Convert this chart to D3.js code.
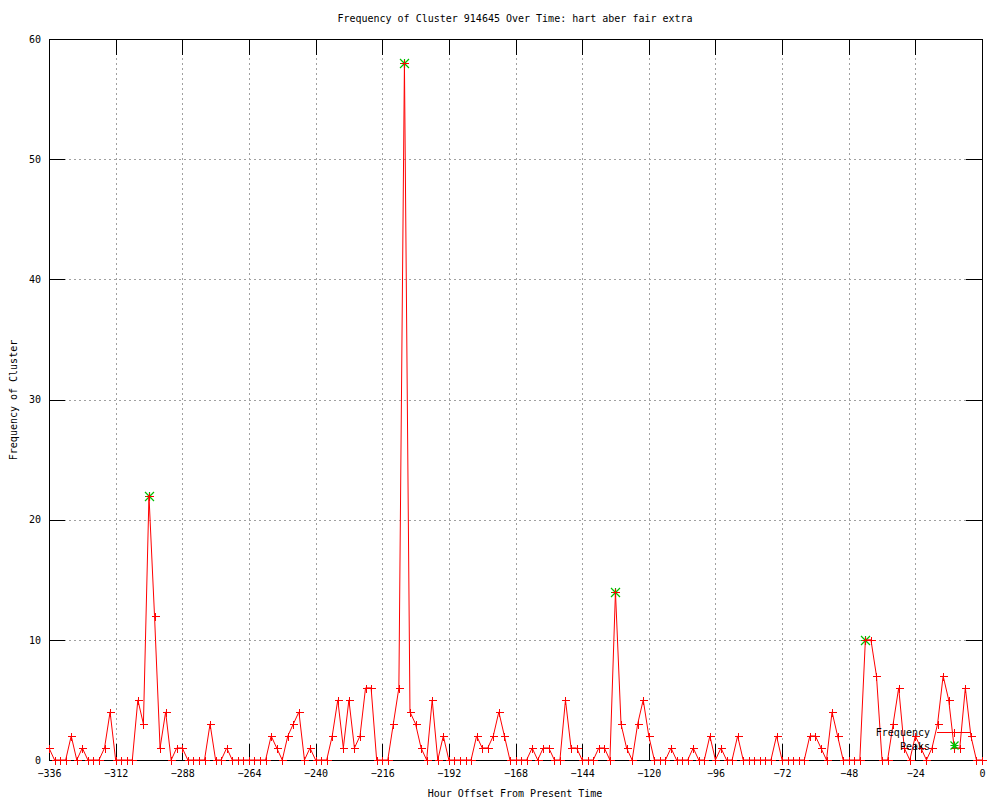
<!DOCTYPE html>
<html>
<head>
<meta charset="utf-8">
<script src="https://cdn.jsdelivr.net/npm/d3@7"></script>
<style>
  html, body { margin: 0; padding: 0; background: #fff; }
  svg { display: block; }
  text { font-family: "DejaVu Sans Mono", monospace; font-size: 10px; fill: #000; }
</style>
</head>
<body>
<svg id="chart" width="1000" height="800"></svg>
<script>
// ---- data ----
const hours = [
  -336,-334,-332,-330,-328,-326,-324,-322,-320,-318,-316,-314,-312,-310,-308,-306,-304,-302,-300,-298,
  -296,-294,-292,-290,-288,-286,-284,-282,-280,-278,-276,-274,-272,-270,-268,-266,-264,-262,-260,-258,
  -256,-254,-252,-250,-248,-246,-244,-242,-240,-238,-236,-234,-232,-230,-228,-226,-224,-222,-220,-218,
  -216,-214,-212,-210,-208,-206,-204,-202,-200,-198,-196,-194,-192,-190,-188,-186,-184,-182,-180,-178,
  -176,-174,-172,-170,-168,-166,-164,-162,-160,-158,-156,-154,-152,-150,-148,-146,-144,-142,-140,-138,
  -136,-134,-132,-130,-128,-126,-124,-122,-120,-118,-116,-114,-112,-110,-108,-106,-104,-102,-100,-98,
  -96,-94,-92,-90,-88,-86,-84,-82,-80,-78,-76,-74,-72,-70,-68,-66,-64,-62,-60,-58,
  -56,-54,-52,-50,-48,-46,-44,-42,-40,-38,-36,-34,-32,-30,-28,-26,-24,-22,-20,-18,
  -16,-14,-12,-10,-8,-6,-4,-2,0
];
const frequency = [
  1,0,0,0,2,0,1,0,0,0,1,4,0,0,0,0,5,3,22,12,
  1,4,0,1,1,0,0,0,0,3,0,0,1,0,0,0,0,0,0,0,
  2,1,0,2,3,4,0,1,0,0,0,2,5,1,5,1,2,6,6,0,
  0,0,3,6,58,4,3,1,0,5,0,2,0,0,0,0,0,2,1,1,
  2,4,2,0,0,0,0,1,0,1,1,0,0,5,1,1,0,0,0,1,
  1,0,14,3,1,0,3,5,2,0,0,0,1,0,0,0,1,0,0,2,
  0,1,0,0,2,0,0,0,0,0,0,2,0,0,0,0,0,2,2,1,
  0,4,2,0,0,0,0,10,10,7,0,0,3,6,1,0,2,1,0,1,
  3,7,5,1,1,6,2,0,0
];
const peakHours = [-300, -208, -132, -42];
const peakValues = [22, 58, 14, 10];
const xTicks = [-336,-312,-288,-264,-240,-216,-192,-168,-144,-120,-96,-72,-48,-24,0];
const yTicks = [0,10,20,30,40,50,60];
const seriesNames = ["Frequency", "Peaks"];
const titleText = "Frequency of Cluster 914645 Over Time: hart aber fair extra";
const xLabel = "Hour Offset From Present Time";
const yLabel = "Frequency of Cluster";

// ---- layout ----
const L = 49, R = 982, T = 39, B = 760;
const svg = d3.select("#chart");
const x = d3.scaleLinear().domain([-336, 0]).range([L, R]);
const y = d3.scaleLinear().domain([0, 60]).range([B, T]);
const red = "#ff0000", green = "#00c000", gridCol = "#a0a0a0";
const tick = 16;

// gridlines
const grid = svg.append("g").attr("shape-rendering", "crispEdges");
grid.append("g").attr("transform", `translate(0,${B})`)
  .call(d3.axisBottom(x).tickValues(xTicks.filter(v => v !== -336 && v !== 0)).tickSize(-(B - T)).tickFormat(""))
  .call(g => g.select(".domain").remove())
  .selectAll("line").attr("stroke", gridCol).attr("stroke-dasharray", "2,3");
grid.append("g").attr("transform", `translate(${L},0)`)
  .call(d3.axisLeft(y).tickValues(yTicks.filter(v => v !== 0 && v !== 60)).tickSize(-(R - L)).tickFormat(""))
  .call(g => g.select(".domain").remove())
  .selectAll("line").attr("stroke", gridCol).attr("stroke-dasharray", "2,3");

// axes (bottom/left with labels, top/right mirrored)
function styleAxis(g) {
  g.attr("shape-rendering", "crispEdges");
  g.select(".domain").remove();
  g.selectAll("line").attr("stroke", "#000");
  g.selectAll("text").attr("font-family", "DejaVu Sans Mono, monospace").attr("font-size", 10).attr("fill", "#000");
}
svg.append("g").attr("transform", `translate(0,${B})`)
  .call(d3.axisBottom(x).tickValues(xTicks).tickSize(-tick).tickPadding(10).tickFormat(d3.format("d")))
  .call(styleAxis);
svg.append("g").attr("transform", `translate(0,${T})`)
  .call(d3.axisTop(x).tickValues(xTicks).tickSize(-tick).tickFormat(""))
  .call(styleAxis);
svg.append("g").attr("transform", `translate(${L},0)`)
  .call(d3.axisLeft(y).tickValues(yTicks).tickSize(-tick).tickPadding(8).tickFormat(d3.format("d")))
  .call(styleAxis);
svg.append("g").attr("transform", `translate(${R},0)`)
  .call(d3.axisRight(y).tickValues(yTicks).tickSize(-tick).tickFormat(""))
  .call(styleAxis);

// border
svg.append("rect").attr("x", L).attr("y", T).attr("width", R - L).attr("height", B - T)
  .attr("fill", "none").attr("stroke", "#000").attr("shape-rendering", "crispEdges");

function plus(sel, cx, cy, s, col) {
  sel.append("path").attr("d", `M${cx - s},${cy}H${cx + s}M${cx},${cy - s}V${cy + s}`)
    .attr("stroke", col).attr("stroke-width", 1).attr("fill", "none").attr("shape-rendering", "crispEdges");
}
function star(sel, cx, cy, s, col) {
  sel.append("path").attr("d",
    `M${cx - s},${cy}H${cx + s}M${cx},${cy - s}V${cy + s}M${cx - s},${cy - s}L${cx + s},${cy + s}M${cx - s},${cy + s}L${cx + s},${cy - s}`)
    .attr("stroke", col).attr("stroke-width", 1.2).attr("fill", "none");
}

// peaks (drawn beneath the frequency series)
const pk = svg.append("g");
peakHours.forEach((h, i) => star(pk, Math.round(x(h)) + 0.5, Math.round(y(peakValues[i])) + 0.5, 4.5, green));

// frequency line
const pts = hours.map((h, i) => [h, frequency[i]]);
svg.append("path").datum(pts)
  .attr("d", d3.line().x(d => x(d[0])).y(d => y(d[1])))
  .attr("fill", "none").attr("stroke", red).attr("stroke-width", 1);
const marks = svg.append("g");
pts.forEach(d => plus(marks, Math.round(x(d[0])) + 0.5, Math.round(y(d[1])) + 0.5, 4, red));

// legend
const lg = svg.append("g");
lg.append("text").attr("x", 930).attr("y", 736).attr("text-anchor", "end").text(seriesNames[0]);
lg.append("line").attr("x1", 937).attr("x2", 971).attr("y1", 732.5).attr("y2", 732.5).attr("stroke", red);
plus(lg, 954.5, 732.5, 4, red);
lg.append("text").attr("x", 930).attr("y", 750).attr("text-anchor", "end").text(seriesNames[1]);
star(lg, 954.5, 745.5, 4, green);

// titles
svg.append("text").attr("x", 515).attr("y", 22).attr("text-anchor", "middle").text(titleText);
svg.append("text").attr("x", 515).attr("y", 797).attr("text-anchor", "middle").text(xLabel);
svg.append("text").attr("transform", "translate(17,400) rotate(-90)").attr("text-anchor", "middle").text(yLabel);
</script>
</body>
</html>
